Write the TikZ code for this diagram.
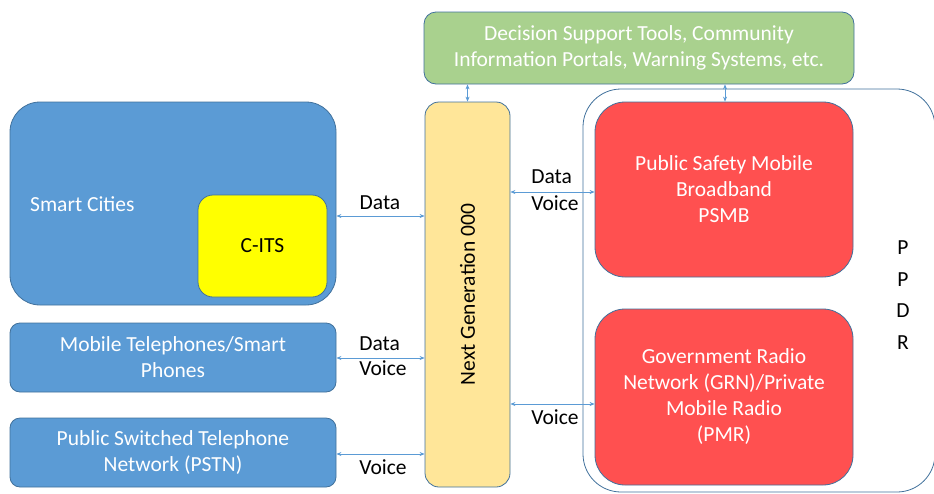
\documentclass[tikz,border=0pt]{standalone}
\usepackage{fontspec}
\setmainfont{Carlito}
\usetikzlibrary{arrows.meta}
\definecolor{boxblue}{HTML}{5B9BD5}
\definecolor{edgeblue}{HTML}{41719C}
\definecolor{citsy}{HTML}{FFFF00}
\definecolor{ngy}{HTML}{FFE699}
\definecolor{dstg}{HTML}{A9D18E}
\definecolor{redb}{HTML}{FF5050}
\definecolor{arrowc}{HTML}{5B9BD5}
\begin{document}
\begin{tikzpicture}[x=1pt,y=-1pt,
  every node/.style={font=\fontsize{21.5}{26}\selectfont},
  box/.style={draw=edgeblue,line width=0.8pt,inner sep=0pt,align=center,text=white},
  arr/.style={draw=arrowc,line width=0.7pt,{Stealth[length=5pt,width=4pt]}-{Stealth[length=5pt,width=4pt]}},
  lbl/.style={text=black,inner sep=0pt}]
\useasboundingbox (0,0) rectangle (934,493);
% boxes
\node[box,fill=boxblue,rounded corners=30pt,minimum width=326pt,minimum height=203pt] (sc) at (173,203.5) {};
\node[text=white,anchor=west,inner sep=0pt] (sclbl) at (30,204) {Smart Cities};
\node[box,fill=citsy,text=black,rounded corners=15pt,minimum width=129pt,minimum height=102pt] (cits) at (262.5,246) {C-ITS};
\node[box,fill=boxblue,rounded corners=10pt,minimum width=326pt,minimum height=69pt] (mob) at (173,357.5) {Mobile Telephones/Smart\\Phones};
\node[box,fill=boxblue,rounded corners=10pt,minimum width=326pt,minimum height=69pt] (pstn) at (173,452.5) {Public Switched Telephone\\Network (PSTN)};
\node[box,fill=ngy,rounded corners=14pt,minimum width=85pt,minimum height=385pt] (ng) at (467.5,294.5) {};
\node[text=black,rotate=90,inner sep=0pt] (nglbl) at (467.5,294.5) {Next Generation 000};
\node[box,fill=dstg,rounded corners=12pt,minimum width=430pt,minimum height=72pt] (dst) at (639,48) {Decision Support Tools, Community\\Information Portals, Warning Systems, etc.};
\node[box,fill=white,rounded corners=38pt,minimum width=352pt,minimum height=403pt] (ppdr) at (759,290.5) {};
\node[box,fill=redb,rounded corners=30pt,minimum width=258pt,minimum height=175pt] (psmb) at (724,189.5) {Public Safety Mobile\\Broadband\\PSMB};
\node[box,fill=redb,rounded corners=30pt,minimum width=258pt,minimum height=176pt] (grn) at (724,397) {Government Radio\\Network (GRN)/Private\\Mobile Radio\\(PMR)};
\node[lbl,align=center,font=\fontsize{21.5}{31.5}\selectfont] (ppdrlbl) at (903,295) {P\\P\\D\\R};
% connectors
\draw[arr] (sc.east |- 0,216) -- (ng.west |- 0,216);
\node[lbl] (l1) at (380,203) {Data};
\draw[arr] (mob.east |- 0,358) -- (ng.west |- 0,358);
\node[lbl,align=left,font=\fontsize{21.5}{25}\selectfont] (l2) at (383,356) {Data\\Voice};
\draw[arr] (pstn.east |- 0,454) -- (ng.west |- 0,454);
\node[lbl] (l3) at (383,467) {Voice};
\draw[arr] (ng.east |- 0,192) -- (psmb.west |- 0,192);
\node[lbl,align=left,font=\fontsize{21.5}{27}\selectfont] (l4) at (555,190) {Data\\Voice};
\draw[arr] (ng.east |- 0,404) -- (grn.west |- 0,404);
\node[lbl] (l5) at (555,417) {Voice};
\draw[arr] (dst.south -| ng.north) -- (ng.north);
\draw[arr] (dst.south -| 725,0) -- (psmb.north -| 725,0);
\end{tikzpicture}
\end{document}
